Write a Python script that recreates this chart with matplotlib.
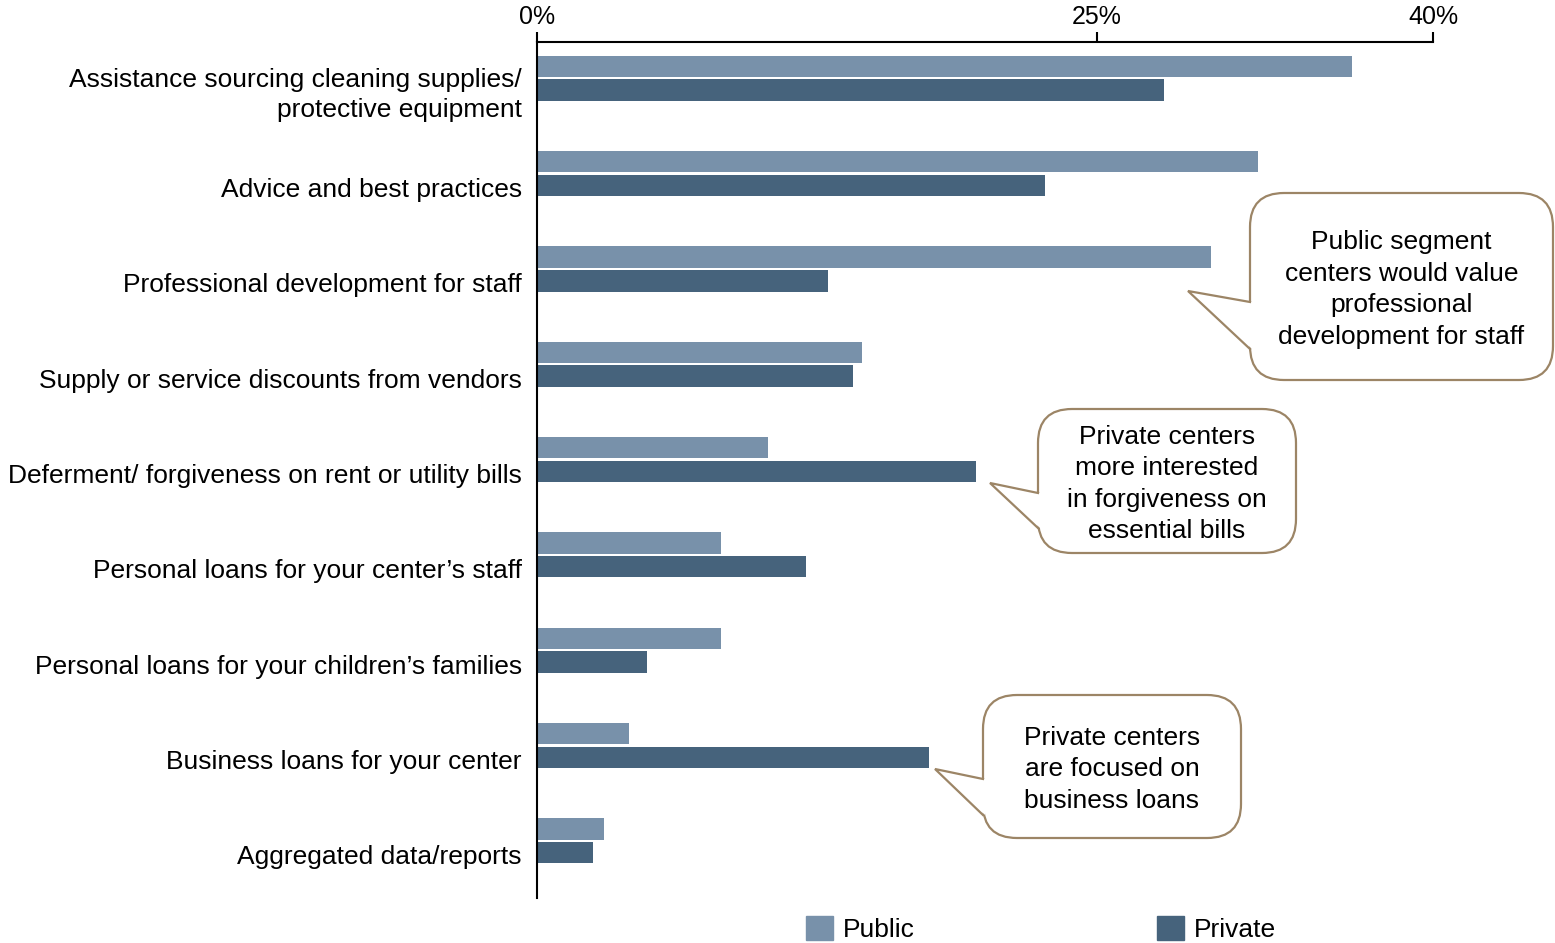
import matplotlib.pyplot as plt
import matplotlib.transforms as mtransforms
from matplotlib.patches import FancyBboxPatch, Polygon, Patch

plt.rcParams['font.family'] = ['Liberation Sans', 'DejaVu Sans']

# Survey data (% of centers that would value each kind of support)
categories = [
    "Assistance sourcing cleaning supplies/\nprotective equipment",
    "Advice and best practices",
    "Professional development for staff",
    "Supply or service discounts from vendors",
    "Deferment/ forgiveness on rent or utility bills",
    "Personal loans for your center\u2019s staff",
    "Personal loans for your children\u2019s families",
    "Business loans for your center",
    "Aggregated data/reports",
]
public = [36.4, 32.2, 30.1, 14.5, 10.3, 8.2, 8.2, 4.1, 3.0]
private = [28.0, 22.7, 13.0, 14.1, 19.6, 12.0, 4.9, 17.5, 2.5]
xticks = [0, 25, 40]
xticklabels = ["0%", "25%", "40%"]

PUBLIC_COLOR = "#7891aa"
PRIVATE_COLOR = "#46637c"
EDGE = "#9c8566"
FS = 19

fig = plt.figure(figsize=(15.55, 9.43), dpi=100)
ax = fig.add_axes([537 / 1555, 1 - 898 / 943, (1433 - 537) / 1555, (898 - 42) / 943])

y = list(range(len(categories)))
h = 0.225
ax.barh([i - 0.125 for i in y], public, height=h, color=PUBLIC_COLOR, label="Public")
ax.barh([i + 0.125 for i in y], private, height=h, color=PRIVATE_COLOR, label="Private")

ax.set_xlim(0, 40)
ax.set_ylim(8.6, -0.38)
ax.set_yticks(y)
ax.set_yticklabels(categories, fontsize=FS, linespacing=1.35)
ax.tick_params(axis="y", length=0, pad=11)
# category labels sit a little below the middle of their bar pair
shift = mtransforms.ScaledTranslation(0, -14 / 100, fig.dpi_scale_trans)
for lab in ax.get_yticklabels():
    lab.set_transform(lab.get_transform() + shift)
ax.get_yticklabels()[0].set_transform(
    ax.get_yticklabels()[0].get_transform()
    + mtransforms.ScaledTranslation(0, 3 / 100, fig.dpi_scale_trans))

ax.xaxis.tick_top()
ax.set_xticks(xticks)
ax.set_xticklabels(xticklabels, fontsize=18)
ax.tick_params(axis="x", direction="out", length=7, width=1.5, pad=2)
for s in ["right", "bottom"]:
    ax.spines[s].set_visible(False)
for s in ["top", "left"]:
    ax.spines[s].set_linewidth(1.5)

# Overlay in pixel units for the speech-bubble callouts
ov = fig.add_axes([0, 0, 1, 1], zorder=5)
ov.set_xlim(0, 1555)
ov.set_ylim(943, 0)
ov.axis("off")
ov.patch.set_alpha(0)


def callout(x0, y0, x1, y1, tip, a_top, a_bot, text):
    r = 34
    box = FancyBboxPatch((x0 + r, y0 + r), x1 - x0 - 2 * r, y1 - y0 - 2 * r,
                         boxstyle=f"round,pad={r},rounding_size={r}",
                         facecolor="white", edgecolor=EDGE, linewidth=1.6,
                         clip_on=False)
    ov.add_patch(box)
    ov.add_patch(Polygon([(x0 + 2, a_top), tip, (x0 + 2, a_bot)], closed=True,
                         facecolor="white", edgecolor="none", zorder=3))
    ov.plot([x0, tip[0], x0], [a_top, tip[1], a_bot], color=EDGE, lw=1.6,
            zorder=4, solid_joinstyle="miter")
    ov.text((x0 + x1) / 2, (y0 + y1) / 2 + 3, text, ha="center", va="center",
            fontsize=FS, linespacing=1.4, zorder=5)


callout(1250, 193, 1553, 380, (1188, 291), 302, 349,
        "Public segment\ncenters would value\nprofessional\ndevelopment for staff")
callout(1038, 409, 1296, 553, (990, 483), 493, 528,
        "Private centers\nmore interested\nin forgiveness on\nessential bills")
callout(983, 695, 1241, 838, (935, 769), 779, 815,
        "Private centers\nare focused on\nbusiness loans")

handles = [Patch(color=PUBLIC_COLOR, label="Public"), Patch(color=PRIVATE_COLOR, label="Private")]
fig.legend(handles=handles, loc="center", bbox_to_anchor=(1041 / 1555, 1 - 929 / 943),
           ncol=2, frameon=False, fontsize=FS, handlelength=1.0, handleheight=1.0,
           handletextpad=0.38, columnspacing=9.2)

fig.savefig("out.png", dpi=100)
